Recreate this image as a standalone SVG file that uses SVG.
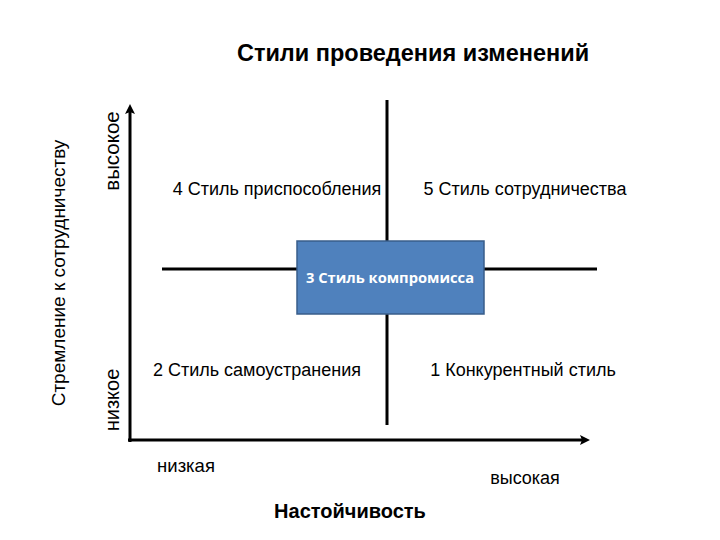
<svg xmlns="http://www.w3.org/2000/svg" width="720" height="540" viewBox="0 0 720 540">
<style>
.t{font-family:"Liberation Sans",Arial,sans-serif;font-size:18px;fill:#000}
.b{font-weight:bold}
.ln{stroke:#000;stroke-width:3;fill:none}
</style>
<defs>
<marker id="ah" markerWidth="12" markerHeight="12" refX="6" refY="6" orient="auto" markerUnits="userSpaceOnUse">
<path d="M0,1 L10,6 L0,11 L2,6 Z" fill="#000"/>
</marker>
</defs>
<rect width="720" height="540" fill="#fff"/>
<text class="t b" x="413" y="61" text-anchor="middle" style="font-size:23.5px">Стили проведения изменений</text>
<g id="connectors">
<line class="ln" x1="130" y1="442" x2="130" y2="108" marker-end="url(#ah)"/>
<line class="ln" x1="128" y1="440" x2="586" y2="440" marker-end="url(#ah)"/>
<line class="ln" x1="387" y1="100" x2="387" y2="425"/>
<line class="ln" x1="162" y1="269" x2="597" y2="269"/>
</g>
<g id="center">
<rect x="297" y="241" width="187" height="73" fill="#4F81BD" stroke="#385D8A" stroke-width="1.5"/>
<text x="390" y="283" text-anchor="middle" style="font-family:'Open Sans','Noto Sans',sans-serif;font-weight:bold;font-size:14.7px;fill:#fff">3 Стиль компромисса</text>
</g>
<g id="q4"><text class="t" x="277" y="195" text-anchor="middle">4 Стиль приспособления</text></g>
<g id="q5"><text class="t" x="525" y="195" text-anchor="middle">5 Стиль сотрудничества</text></g>
<g id="q2"><text class="t" x="257" y="376" text-anchor="middle">2 Стиль самоустранения</text></g>
<g id="q1"><text class="t" x="523" y="376" text-anchor="middle">1 Конкурентный стиль</text></g>
<g id="axis-labels">
<text class="t" x="186" y="472" text-anchor="middle" style="font-size:18.5px">низкая</text>
<text class="t" x="525" y="484" text-anchor="middle">высокая</text>
<text class="t b" x="350" y="518" text-anchor="middle" style="font-size:20px">Настойчивость</text>
<text class="t" transform="translate(119,151) rotate(-90)" text-anchor="middle" style="font-size:20.5px">высокое</text>
<text class="t" transform="translate(119,400) rotate(-90)" text-anchor="middle" style="font-size:20px">низкое</text>
<text class="t" transform="translate(65,273) rotate(-90)" text-anchor="middle" style="font-size:19px">Стремление к сотрудничеству</text>
</g>
</svg>
